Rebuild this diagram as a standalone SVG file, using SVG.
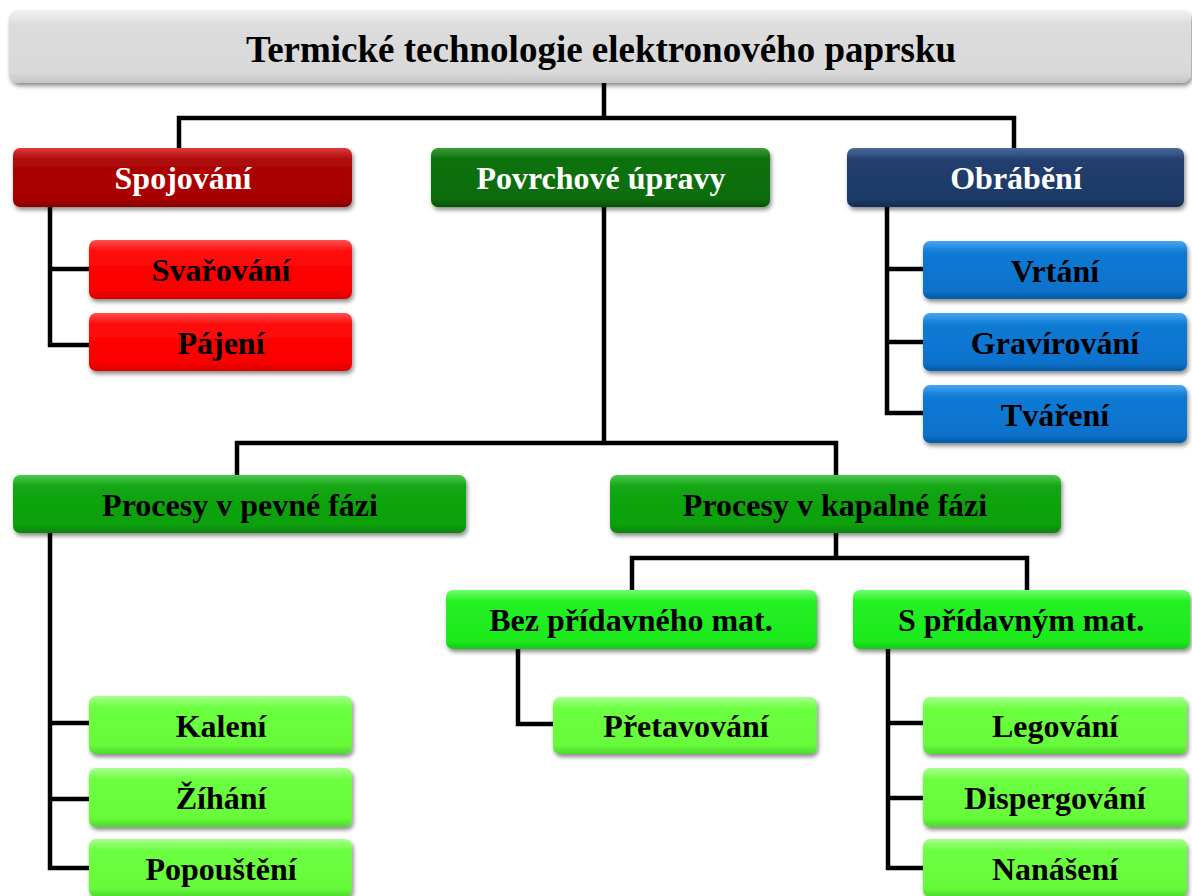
<svg xmlns="http://www.w3.org/2000/svg" width="1192" height="896" viewBox="0 0 1192 896">
<style>
.lbl{font-family:"Liberation Serif","Times New Roman",serif;font-weight:bold;font-size:32px;text-anchor:middle}
.w{fill:#ffffff}
.k{fill:#000000}
.c{fill:none;stroke:#000;stroke-width:4.5;stroke-linejoin:miter}
</style>
<defs>
<filter id="sh" x="-5%" y="-20%" width="110%" height="150%">
<feDropShadow dx="1.5" dy="3" stdDeviation="2" flood-color="#000" flood-opacity="0.45"/>
</filter>
<linearGradient id="gGray" x1="0" y1="0" x2="0" y2="1"><stop offset="0" stop-color="#f2f2f2"/><stop offset="0.2" stop-color="#dcdcdc"/><stop offset="0.85" stop-color="#d9d9d9"/><stop offset="1" stop-color="#c4c4c4"/></linearGradient>
<linearGradient id="gRedD" x1="0" y1="0" x2="0" y2="1"><stop offset="0" stop-color="#e03a3a"/><stop offset="0.2" stop-color="#ad0808"/><stop offset="0.85" stop-color="#a80000"/><stop offset="1" stop-color="#8c0000"/></linearGradient>
<linearGradient id="gRed" x1="0" y1="0" x2="0" y2="1"><stop offset="0" stop-color="#ff5050"/><stop offset="0.2" stop-color="#ff0a0a"/><stop offset="0.85" stop-color="#fa0000"/><stop offset="1" stop-color="#d80000"/></linearGradient>
<linearGradient id="gGrnD" x1="0" y1="0" x2="0" y2="1"><stop offset="0" stop-color="#3a9a3a"/><stop offset="0.2" stop-color="#0b720b"/><stop offset="0.85" stop-color="#096c09"/><stop offset="1" stop-color="#055505"/></linearGradient>
<linearGradient id="gBlueD" x1="0" y1="0" x2="0" y2="1"><stop offset="0" stop-color="#4a6a9a"/><stop offset="0.2" stop-color="#213f6e"/><stop offset="0.85" stop-color="#1e3b68"/><stop offset="1" stop-color="#152c52"/></linearGradient>
<linearGradient id="gBlue" x1="0" y1="0" x2="0" y2="1"><stop offset="0" stop-color="#4aa6f0"/><stop offset="0.2" stop-color="#0c7ad4"/><stop offset="0.85" stop-color="#0872cc"/><stop offset="1" stop-color="#055da8"/></linearGradient>
<linearGradient id="gGrnM" x1="0" y1="0" x2="0" y2="1"><stop offset="0" stop-color="#4cc84c"/><stop offset="0.2" stop-color="#12a612"/><stop offset="0.85" stop-color="#0fa00f"/><stop offset="1" stop-color="#0a840a"/></linearGradient>
<linearGradient id="gGrnB" x1="0" y1="0" x2="0" y2="1"><stop offset="0" stop-color="#70ff70"/><stop offset="0.2" stop-color="#22f022"/><stop offset="0.85" stop-color="#1eea1e"/><stop offset="1" stop-color="#16c816"/></linearGradient>
<linearGradient id="gGrnL" x1="0" y1="0" x2="0" y2="1"><stop offset="0" stop-color="#a8ff90"/><stop offset="0.2" stop-color="#6cff40"/><stop offset="0.85" stop-color="#66fa3a"/><stop offset="1" stop-color="#50d830"/></linearGradient>
</defs>
<rect width="1192" height="896" fill="#ffffff"/>

<g id="connectors">
<polyline class="c" points="604,83 604,118"/>
<polyline class="c" points="179,148 179,118 1014,118 1014,148"/>
<polyline class="c" points="50,207 50,345 89,345"/>
<line class="c" x1="50" y1="269" x2="89" y2="269"/>
<polyline class="c" points="887,207 887,413 923,413"/>
<line class="c" x1="887" y1="269" x2="923" y2="269"/>
<line class="c" x1="887" y1="342" x2="923" y2="342"/>
<polyline class="c" points="604,207 604,443"/>
<polyline class="c" points="237,475 237,443 836,443 836,475"/>
<polyline class="c" points="50,533 50,868 89,868"/>
<line class="c" x1="50" y1="723" x2="89" y2="723"/>
<line class="c" x1="50" y1="799" x2="89" y2="799"/>
<polyline class="c" points="836,533 836,558"/>
<polyline class="c" points="632,590 632,558 1027,558 1027,590"/>
<polyline class="c" points="518,649 518,724 553,724"/>
<polyline class="c" points="888,649 888,868 923,868"/>
<line class="c" x1="888" y1="723" x2="923" y2="723"/>
<line class="c" x1="888" y1="798" x2="923" y2="798"/>
</g>

<g id="root"><rect x="9" y="10" width="1182" height="73" rx="9" fill="url(#gGray)" filter="url(#sh)"/><text class="lbl k" x="601" y="62" style="font-size:37px">Termické technologie elektronového paprsku</text></g>

<g id="spojovani"><rect x="13" y="148" width="339" height="59" rx="7" fill="url(#gRedD)" filter="url(#sh)"/><text class="lbl w" x="183" y="189">Spojování</text></g>
<g id="povrchove"><rect x="431" y="148" width="339" height="59" rx="7" fill="url(#gGrnD)" filter="url(#sh)"/><text class="lbl w" x="601" y="189">Povrchové úpravy</text></g>
<g id="obrabeni"><rect x="847" y="148" width="337" height="59" rx="7" fill="url(#gBlueD)" filter="url(#sh)"/><text class="lbl w" x="1016" y="189">Obrábění</text></g>

<g id="svarovani"><rect x="89" y="240" width="263" height="59" rx="7" fill="url(#gRed)" filter="url(#sh)"/><text class="lbl k" x="221" y="281">Svařování</text></g>
<g id="pajeni"><rect x="89" y="313" width="263" height="58" rx="7" fill="url(#gRed)" filter="url(#sh)"/><text class="lbl k" x="221" y="354">Pájení</text></g>

<g id="vrtani"><rect x="923" y="241" width="264" height="58" rx="7" fill="url(#gBlue)" filter="url(#sh)"/><text class="lbl k" x="1055" y="282">Vrtání</text></g>
<g id="gravirovani"><rect x="923" y="313" width="264" height="58" rx="7" fill="url(#gBlue)" filter="url(#sh)"/><text class="lbl k" x="1055" y="354">Gravírování</text></g>
<g id="tvareni"><rect x="923" y="385" width="264" height="58" rx="7" fill="url(#gBlue)" filter="url(#sh)"/><text class="lbl k" x="1055" y="426">Tváření</text></g>

<g id="pevne"><rect x="13" y="475" width="453" height="58" rx="7" fill="url(#gGrnM)" filter="url(#sh)"/><text class="lbl k" x="240" y="516">Procesy v pevné fázi</text></g>
<g id="kapalne"><rect x="610" y="475" width="451" height="58" rx="7" fill="url(#gGrnM)" filter="url(#sh)"/><text class="lbl k" x="835" y="516">Procesy v kapalné fázi</text></g>

<g id="bez"><rect x="446" y="590" width="371" height="59" rx="7" fill="url(#gGrnB)" filter="url(#sh)"/><text class="lbl k" x="631" y="631">Bez přídavného mat.</text></g>
<g id="s-pridavnym"><rect x="853" y="590" width="337" height="59" rx="7" fill="url(#gGrnB)" filter="url(#sh)"/><text class="lbl k" x="1021" y="631">S přídavným mat.</text></g>

<g id="pretavovani"><rect x="553" y="697" width="264" height="57" rx="7" fill="url(#gGrnL)" filter="url(#sh)"/><text class="lbl k" x="686" y="737">Přetavování</text></g>

<g id="kaleni"><rect x="89" y="696" width="263" height="58" rx="7" fill="url(#gGrnL)" filter="url(#sh)"/><text class="lbl k" x="221" y="737">Kalení</text></g>
<g id="zihani"><rect x="89" y="768" width="263" height="59" rx="7" fill="url(#gGrnL)" filter="url(#sh)"/><text class="lbl k" x="221" y="809">Žíhání</text></g>
<g id="popousteni"><rect x="89" y="839" width="263" height="58" rx="7" fill="url(#gGrnL)" filter="url(#sh)"/><text class="lbl k" x="221" y="880">Popouštění</text></g>

<g id="legovani"><rect x="923" y="697" width="264" height="57" rx="7" fill="url(#gGrnL)" filter="url(#sh)"/><text class="lbl k" x="1055" y="737">Legování</text></g>
<g id="dispergovani"><rect x="923" y="768" width="264" height="59" rx="7" fill="url(#gGrnL)" filter="url(#sh)"/><text class="lbl k" x="1055" y="809">Dispergování</text></g>
<g id="nanaseni"><rect x="923" y="839" width="264" height="58" rx="7" fill="url(#gGrnL)" filter="url(#sh)"/><text class="lbl k" x="1055" y="880">Nanášení</text></g>
</svg>
